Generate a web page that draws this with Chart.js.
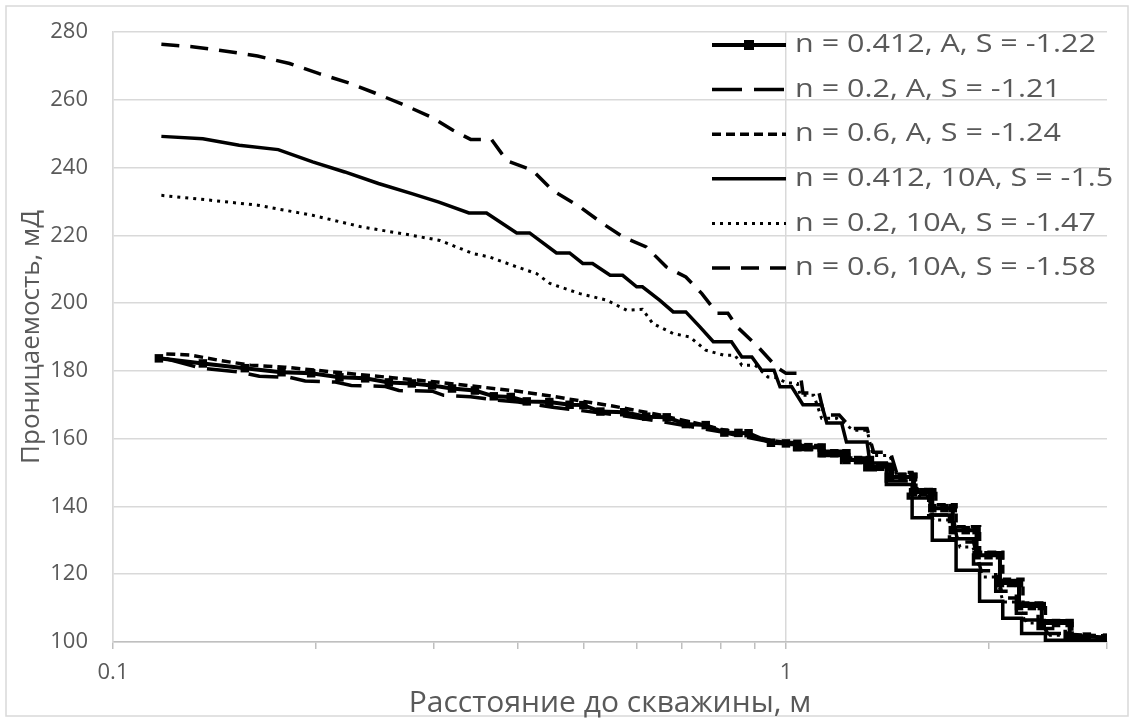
<!DOCTYPE html>
<html>
<head>
<meta charset="utf-8">
<script src="https://cdn.jsdelivr.net/npm/chart.js@4.4.1/dist/chart.umd.min.js"></script>
<style>
  html, body { margin: 0; padding: 0; background: #fff; }
</style>
</head>
<body>
<canvas id="permChart" width="1134" height="722"></canvas>
<script>
// x axis ticks (log scale), only two of them carry a label
const xTicks = [0.1, 0.2, 0.3, 0.4, 0.5, 0.6, 0.7, 0.8, 0.9, 1, 2, 3];
const xLabeled = [0.1, 1];

const seriesLabels = [
  'n = 0.412, A, S = -1.22',
  'n = 0.2, A, S = -1.21',
  'n = 0.6, A, S = -1.24',
  'n = 0.412, 10A, S = -1.5',
  'n = 0.2, 10A, S = -1.47',
  'n = 0.6, 10A, S = -1.58'
];

// n = 0.412, A
const x412A = [0.117, 0.136, 0.157, 0.178, 0.197, 0.217, 0.237, 0.257, 0.278, 0.298, 0.319, 0.345, 0.368, 0.39, 0.412, 0.445, 0.477, 0.5, 0.53, 0.575, 0.62, 0.665, 0.71, 0.76, 0.81, 0.85, 0.88, 0.95, 1.0,
  1.04, 1.04, 1.08, 1.13, 1.13, 1.18, 1.23, 1.23, 1.28, 1.333, 1.333, 1.38, 1.428, 1.428, 1.49, 1.545, 1.545, 1.6, 1.65, 1.65, 1.72, 1.77, 1.77, 1.85, 1.92, 1.92, 2.0, 2.08, 2.08, 2.16, 2.22, 2.22, 2.32, 2.4, 2.4, 2.52, 2.64, 2.64, 2.8, 3.0];
const y412A = [183.7, 182.2, 180.8, 179.6, 179.3, 178.1, 177.8, 176.6, 176.3, 175.7, 174.8, 174.2, 172.5, 172.3, 171, 170.8, 170, 169.9, 168, 167.8, 166.5, 166.3, 164.3, 164, 161.8, 161.7, 161.6, 158.8, 158.6,
  158.5, 157.5, 157.5, 157.4, 155.7, 155.7, 155.7, 153.7, 153.7, 153.7, 151.7, 151.7, 151.7, 148.7, 148.7, 148.7, 144.2, 144.2, 144.2, 139.5, 139.5, 139.5, 133, 133, 133, 125.6, 125.6, 125.6, 117.4, 117.4, 117.4, 110.6, 110.6, 110.6, 105.6, 105.6, 105.6, 101.9, 101.6, 101.3];

// n = 0.2, A
const x02A = [0.12, 0.135, 0.155, 0.165, 0.183, 0.193, 0.214, 0.226, 0.254, 0.266, 0.298, 0.31, 0.34, 0.37, 0.4, 0.45, 0.5, 0.55, 0.6, 0.65, 0.7, 0.75, 0.8, 0.87, 0.95, 1.0,
  1.03, 1.03, 1.11, 1.11, 1.21, 1.21, 1.31, 1.31, 1.41, 1.41, 1.52, 1.52, 1.63, 1.63, 1.75, 1.75, 1.9, 1.9, 2.05, 2.05, 2.2, 2.2, 2.37, 2.37, 2.6, 2.6, 3.0];
const y02A = [183.6, 180.8, 179.6, 178.4, 178.1, 177, 176.7, 175.7, 175.4, 174.2, 174, 172.8, 172.4, 171.4, 170.8, 169.3, 168.2, 167.2, 166.2, 165.1, 164, 163, 162, 160.5, 159, 158.3,
  158.3, 156.8, 156.8, 155, 155, 153, 153, 150.8, 150.8, 147.5, 147.5, 142.5, 142.5, 137.5, 137.5, 130.5, 130.5, 123, 123, 115, 115, 108.5, 108.5, 104, 104, 101.2, 101.2];

// n = 0.6, A
const x06A = [0.12, 0.13, 0.145, 0.16, 0.18, 0.2, 0.23, 0.26, 0.3, 0.35, 0.4, 0.45, 0.5, 0.55, 0.6, 0.65, 0.7, 0.75, 0.8, 0.87, 0.95, 1.0,
  1.05, 1.05, 1.14, 1.14, 1.24, 1.24, 1.34, 1.34, 1.44, 1.44, 1.56, 1.56, 1.67, 1.67, 1.79, 1.79, 1.94, 1.94, 2.1, 2.1, 2.25, 2.25, 2.43, 2.43, 2.66, 2.66, 3.0];
const y06A = [185, 184.7, 183, 181.7, 181.1, 180.2, 179, 178, 176.8, 175.3, 174, 172.5, 171, 169.7, 168.3, 167, 165.5, 164.2, 162.8, 161.2, 159.5, 158.9,
  158.9, 158, 158, 156.3, 156.3, 154.3, 154.3, 152.5, 152.5, 149.5, 149.5, 145, 145, 140.5, 140.5, 134, 134, 126.5, 126.5, 118.5, 118.5, 111.5, 111.5, 106.3, 106.3, 102.2, 101.8];

// n = 0.412, 10A
const x412B = [0.118, 0.136, 0.154, 0.176, 0.198, 0.221, 0.248, 0.278, 0.305, 0.338, 0.359, 0.398, 0.416, 0.456, 0.477, 0.499, 0.516, 0.548, 0.572, 0.6, 0.612, 0.649, 0.68, 0.71, 0.745, 0.78, 0.83, 0.86, 0.89, 0.92, 0.96, 0.98, 1.02,
  1.06, 1.13, 1.15, 1.21, 1.23, 1.32, 1.333, 1.41, 1.41, 1.54, 1.54, 1.65, 1.65, 1.79, 1.79, 1.94, 1.94, 2.1, 2.1, 2.24, 2.24, 2.43, 2.43, 3.0];
const y412B = [249.2, 248.5, 246.6, 245.3, 241.7, 238.7, 235.3, 232.3, 229.8, 226.6, 226.6, 220.7, 220.7, 214.8, 214.8, 211.7, 211.7, 208.2, 208.2, 204.8, 204.8, 200.9, 197.4, 197.4, 193, 188.6, 188.6, 184.1, 184.1, 180.2, 180.2, 175.3, 175.3,
  170, 170, 164.6, 164.6, 159, 159, 152.8, 152.8, 146.5, 146.5, 136.7, 136.7, 130, 130, 121.2, 121.2, 112, 112, 107, 107, 102.5, 102.5, 100.5, 100.5];

// n = 0.2, 10A
const x02B = [0.118, 0.139, 0.164, 0.198, 0.234, 0.278, 0.306, 0.343, 0.363, 0.398, 0.426, 0.446, 0.494, 0.541, 0.58, 0.612, 0.634, 0.68, 0.72, 0.76, 0.81, 0.84, 0.86, 0.9, 0.94, 0.97, 1.0, 1.04,
  1.05, 1.1, 1.13, 1.19, 1.26, 1.32, 1.347, 1.427, 1.462, 1.544, 1.58, 1.63, 1.654, 1.77, 1.814, 1.896, 1.962, 2.059, 2.101, 2.204, 2.28, 2.385, 2.468, 2.58, 2.64, 3.0];
const y02B = [231.8, 230.4, 228.9, 225.9, 222.5, 220, 218.5, 214.6, 213.6, 210.7, 208.7, 205.8, 202.8, 200.9, 197.9, 198.2, 194, 191, 190, 186.1, 184.6, 184.6, 181.7, 181.7, 178.2, 178, 176.5, 176.3,
  172.8, 172.8, 166, 166, 162.5, 162.5, 155, 155, 149.3, 149.3, 143, 143, 136, 136, 128, 128, 119.2, 119.2, 111.8, 111.8, 105.6, 105.6, 102, 102, 101, 101];

// n = 0.6, 10A
const x06B = [0.118, 0.132, 0.15, 0.164, 0.183, 0.2025, 0.224, 0.245, 0.269, 0.298, 0.32, 0.34, 0.365, 0.385, 0.42, 0.45, 0.494, 0.534, 0.573, 0.62, 0.664, 0.71, 0.75, 0.79, 0.82, 0.846, 0.91, 0.97, 1.0, 1.05,
  1.06, 1.12, 1.14, 1.2, 1.25, 1.32, 1.35, 1.43, 1.46, 1.54, 1.56, 1.63, 1.65, 1.77, 1.8, 1.9, 1.95, 2.06, 2.1, 2.2, 2.26, 2.38, 2.45, 2.6, 2.65, 3.0];
const y06B = [276.4, 275.6, 274.1, 272.9, 270.7, 267.7, 265, 262, 258.7, 254.8, 251, 248.3, 248.3, 242, 239.2, 233.3, 228.4, 223.5, 219.5, 216.6, 210.7, 207.7, 202.8, 197, 197, 193, 187, 181, 179.3, 179.3,
  173.5, 173.5, 167, 167, 163, 163, 156, 156, 150, 150, 144.5, 144.5, 137.5, 137.5, 129.5, 129.5, 121, 121, 113, 113, 106.5, 106.5, 102.5, 102.5, 101.2, 101.2];

function pts(xs, ys) {
  return xs.map((x, i) => ({ x: x, y: ys[i] }));
}

const ctx = document.getElementById('permChart').getContext('2d');
const font = '"Open Sans"';
const grey = '#595959';

const frame = {
  id: 'frame',
  beforeDraw(chart) {
    const c = chart.ctx;
    c.save();
    c.fillStyle = '#fff';
    c.fillRect(0, 0, chart.width, chart.height);
    c.strokeStyle = '#d9d9d9';
    c.lineWidth = 1.5;
    c.strokeRect(6, 6, chart.width - 12, chart.height - 12);
    c.restore();
  }
};

// legend sits inside the plot, drawn by hand (text a bit stretched, as in the source)
const innerLegend = {
  id: 'innerLegend',
  afterDraw(chart) {
    const c = chart.ctx;
    c.save();
    chart.data.datasets.forEach((ds, i) => {
      const y = 45 + i * 44.6;
      c.strokeStyle = '#000';
      c.lineWidth = ds.borderWidth;
      c.setLineDash(ds.borderDash || []);
      c.beginPath();
      c.moveTo(712, y);
      c.lineTo(786, y);
      c.stroke();
      c.setLineDash([]);
      if (ds.pointRadius > 0) {
        c.fillStyle = '#000';
        c.fillRect(749 - 5, y - 5, 10, 10);
      }
      c.save();
      c.translate(795, y);
      c.scale(1.22, 1);
      c.fillStyle = grey;
      c.font = '25px ' + font;
      c.textBaseline = 'middle';
      c.fillText(ds.label, 0, 0);
      c.restore();
    });
    c.restore();
  }
};

const chart = new Chart(ctx, {
  type: 'line',
  data: {
    datasets: [
      { label: seriesLabels[0], data: pts(x412A, y412A), borderColor: '#000', backgroundColor: '#000', borderWidth: 4, pointRadius: 6, pointStyle: 'rect', pointBorderWidth: 0 },
      { label: seriesLabels[1], data: pts(x02A, y02A), borderColor: '#000', borderWidth: 3.5, borderDash: [30, 12], pointRadius: 0 },
      { label: seriesLabels[2], data: pts(x06A, y06A), borderColor: '#000', borderWidth: 3.5, borderDash: [9, 5], pointRadius: 0 },
      { label: seriesLabels[3], data: pts(x412B, y412B), borderColor: '#000', borderWidth: 3.5, pointRadius: 0 },
      { label: seriesLabels[4], data: pts(x02B, y02B), borderColor: '#000', borderWidth: 3, borderDash: [3, 5], pointRadius: 0 },
      { label: seriesLabels[5], data: pts(x06B, y06B), borderColor: '#000', borderWidth: 3.5, borderDash: [18, 11], pointRadius: 0 }
    ]
  },
  options: {
    responsive: false,
    animation: false,
    layout: { padding: { left: 0, right: 27, top: 32, bottom: 0 } },
    plugins: {
      legend: { display: false },
      tooltip: { enabled: false }
    },
    scales: {
      x: {
        type: 'logarithmic',
        min: 0.1,
        max: 3,
        afterBuildTicks: (scale) => {
          scale.ticks = xTicks.map(v => ({ value: v }));
        },
        afterFit: (scale) => {
          scale.height = 80;
          scale.paddingLeft = 0;
          scale.paddingRight = 0;
        },
        ticks: {
          autoSkip: false,
          maxRotation: 0,
          padding: 11,
          color: grey,
          font: { family: font, size: 22 },
          callback: (v) => xLabeled.includes(v) ? String(v) : ''
        },
        grid: {
          color: (c) => xLabeled.includes(c.tick && c.tick.value) ? '#d9d9d9' : 'rgba(0,0,0,0)',
          tickColor: '#bfbfbf',
          tickLength: 7,
          lineWidth: 1.5
        },
        border: { color: '#bfbfbf', width: 1.5 },
        title: {
          display: true,
          text: 'Расстояние до скважины, м',
          color: grey,
          font: { family: font, size: 30 },
          padding: { top: 0, bottom: 1 }
        }
      },
      y: {
        min: 100,
        max: 280,
        afterFit: (scale) => {
          scale.width = 113;
          scale.paddingTop = 0;
          scale.paddingBottom = 0;
        },
        ticks: {
          stepSize: 20,
          padding: 25,
          color: grey,
          font: { family: font, size: 22 }
        },
        grid: { color: '#d9d9d9', lineWidth: 1.5, drawTicks: false },
        border: { color: '#d9d9d9', width: 1.5 },
        title: {
          display: true,
          text: 'Проницаемость, мД',
          color: grey,
          font: { family: font, size: 26 },
          padding: { top: 16, bottom: 0 }
        }
      }
    }
  },
  plugins: [frame, innerLegend]
});
</script>
</body>
</html>
